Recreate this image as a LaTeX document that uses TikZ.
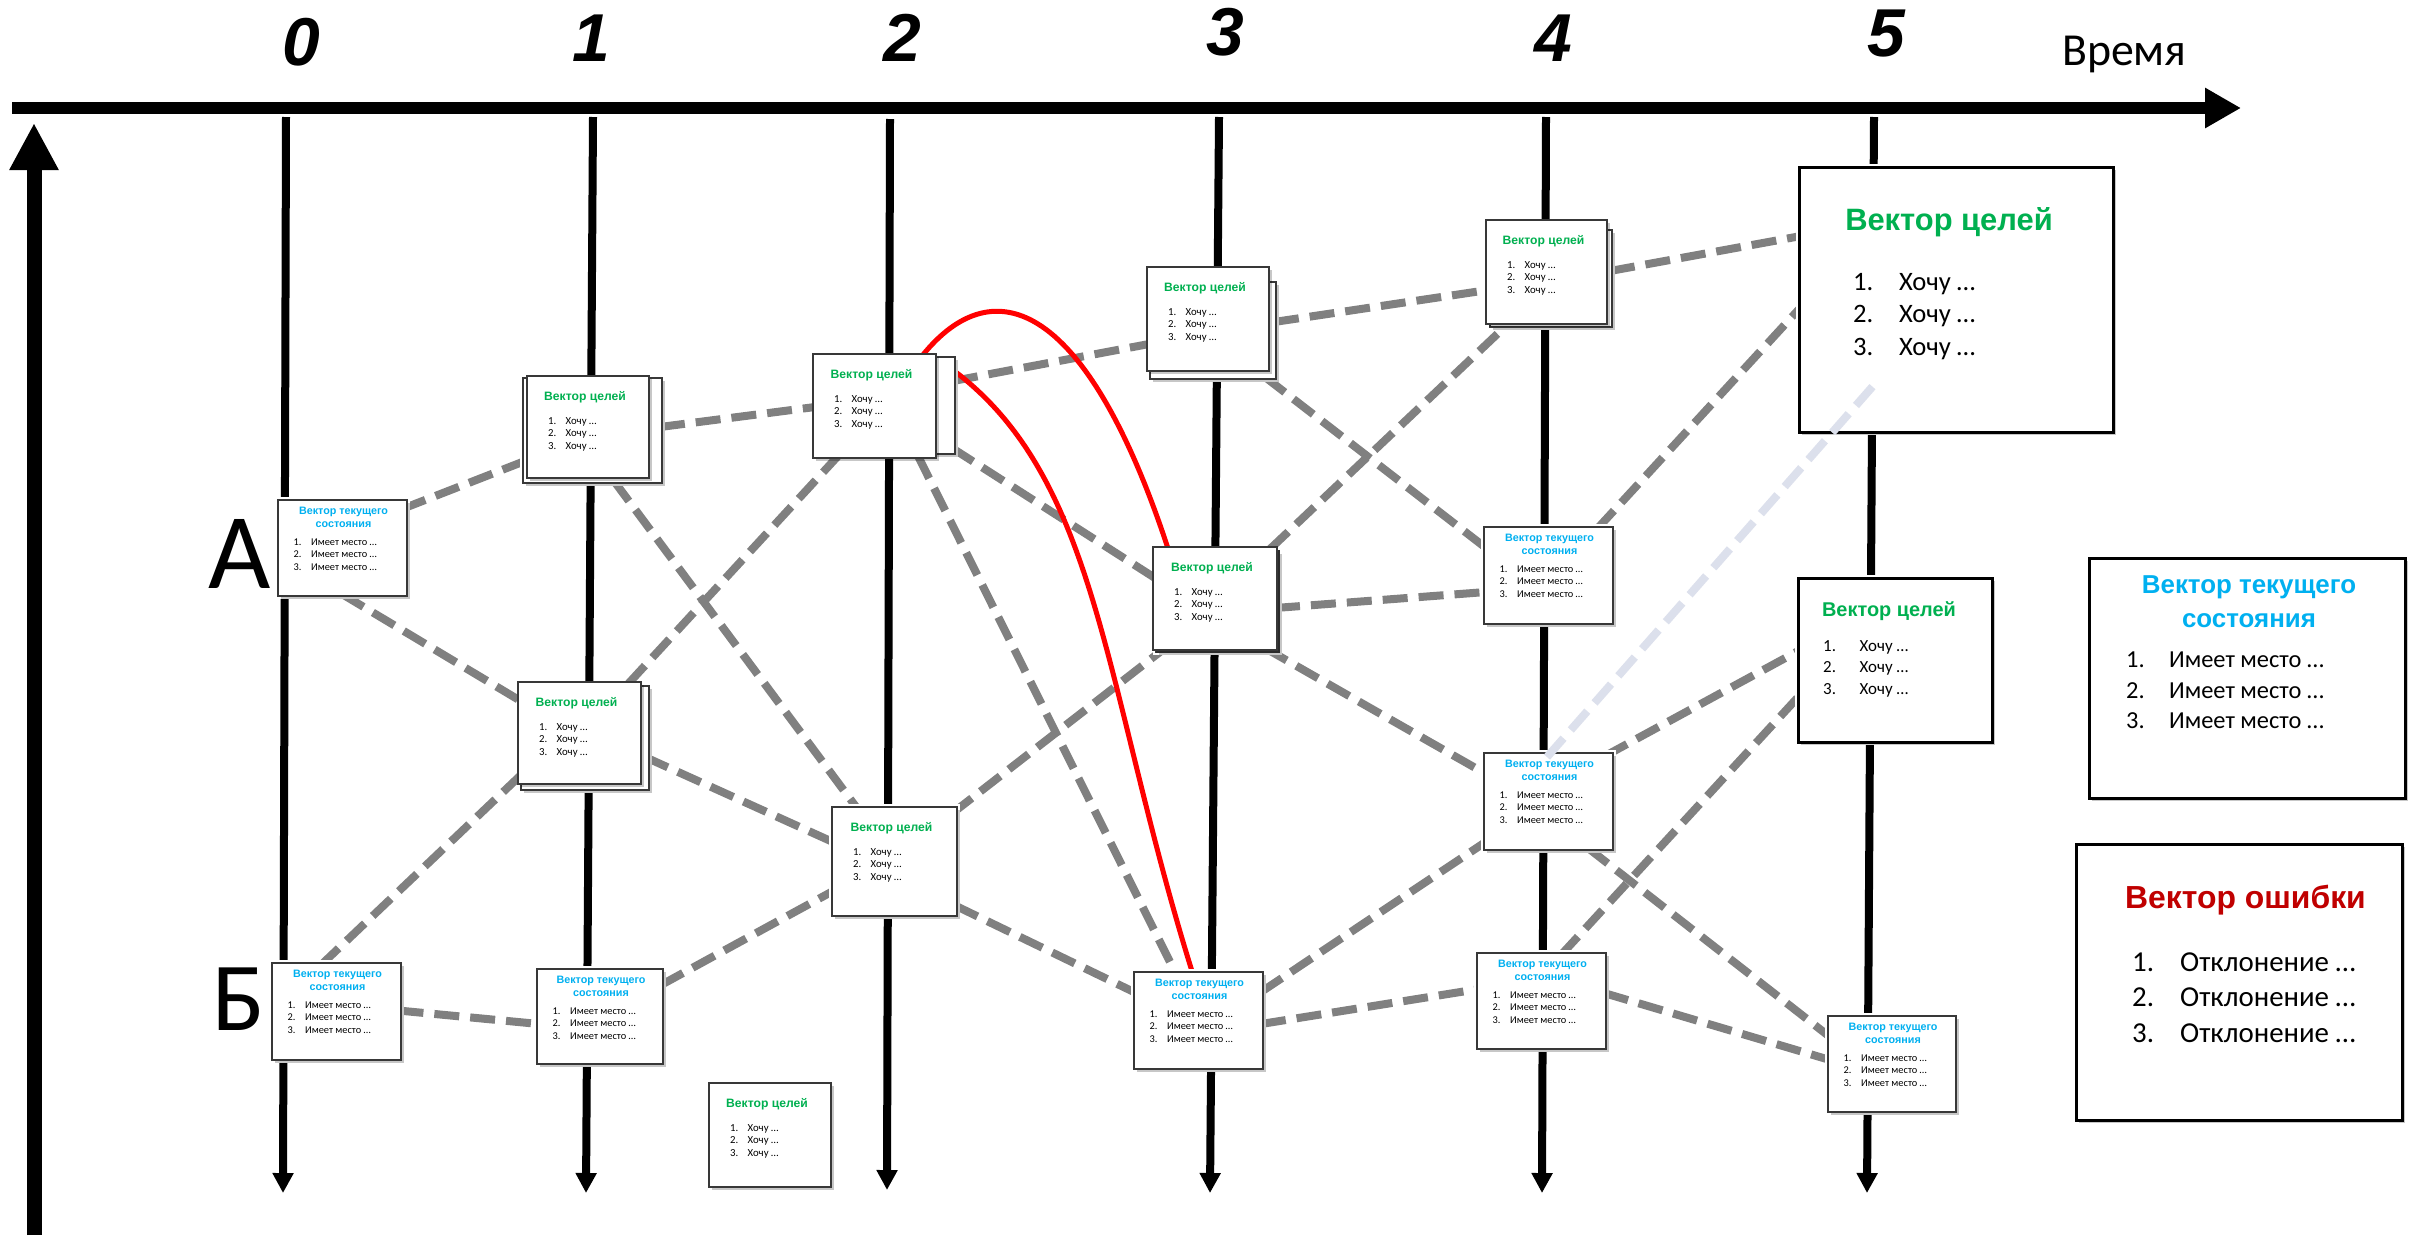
\documentclass[tikz,border=0pt]{standalone}
\usepackage{fontspec}
\setmainfont{Carlito}
\newfontfamily\tb{Liberation Sans}
\usetikzlibrary{arrows.meta,calc,shadows}
\pgfdeclarelayer{bg}
\pgfsetlayers{bg,main}
\definecolor{gr}{HTML}{00B050}
\definecolor{bl}{HTML}{00B0F0}
\definecolor{er}{HTML}{C00000}
\definecolor{dg}{HTML}{808080}
\definecolor{lv}{HTML}{DCE0EC}
\newcommand\mkbox[6]{%
 \node[#1, minimum width={(#5-#3)*1bp}, minimum height={(#6-#4)*1bp}] (#2) at ({(#3+#5)/2},{(#4+#6)/2}) {};}
\newcommand\goaltext[1]{%
 \node[anchor=base, text=gr, font=\tb\bfseries\fontsize{12.2}{14}\selectfont, inner sep=0] (#1-t) at ($(#1.north)+(-3,24.4)$) {Вектор целей};
 \node[anchor=base west, inner sep=0, font=\fontsize{10.8}{13}\selectfont] (#1-l) at ($(#1.north west)+(21,48)$) {\begin{tabular}[t]{@{}l@{\hspace{9.3bp}}l@{}}1.&Хочу …\\2.&Хочу …\\3.&Хочу …\end{tabular}};}
\newcommand\statetext[1]{%
 \node[anchor=base, text=bl, font=\tb\bfseries\fontsize{10.8}{13}\selectfont, inner sep=0] (#1-t) at ($(#1.north)+(1,14.9)$) {\begin{tabular}[t]{@{}c@{}}Вектор текущего\\состояния\end{tabular}};
 \node[anchor=base west, inner sep=0, font=\fontsize{10.4}{12.5}\selectfont] (#1-l) at ($(#1.north west)+(15.5,45.3)$) {\begin{tabular}[t]{@{}l@{\hspace{9.6bp}}l@{}}1.&Имеет место …\\2.&Имеет место …\\3.&Имеет место …\end{tabular}};}
\begin{document}
\begin{tikzpicture}[x=1bp,y=-1bp,
 ring/.style={preaction={draw=white,line width=6bp}},
 shd/.style={drop shadow={shadow xshift=2.5bp,shadow yshift=-2.5bp,fill=black,opacity=0.22}},
 bxf/.style={shd,draw=black!78,line width=1.8bp,fill=white,inner sep=0,outer sep=0},
 bx/.style={ring,bxf},
 bxl/.style={ring,shd,draw=black,line width=3bp,fill=white,inner sep=0,outer sep=0},
 tl/.style={line width=8bp,-{Triangle[length=20bp,width=20bp]}},
 dl/.style={draw=dg,line width=8bp,dash pattern=on 25bp off 11bp},
 rl/.style={draw=red,line width=5bp},
 num/.style={font=\tb\bfseries\itshape\fontsize{68}{70}\selectfont,inner sep=0}]
\begin{pgfonlayer}{bg}
\fill[white] (0,0) rectangle (2410,1235);
\end{pgfonlayer}
\useasboundingbox (0,0) rectangle (2410,1235);
% axes
\coordinate (ax0) at (12,108); \coordinate (ax1) at (2241,108);
\draw[line width=12bp,-{Triangle[length=36bp,width=38bp]}] (ax0) -- (ax1);
\coordinate (vy0) at (34,1235); \coordinate (vy1) at (34,123);
\draw[line width=15bp,-{Triangle[length=47bp,width=46bp]}] (vy0) -- (vy1);
% time labels
\node[num] (n0) at (301,42) {0};
\node[num] (n1) at (591,38) {1};
\node[num] (n2) at (902,38) {2};
\node[num] (n3) at (1225,32) {3};
\node[num] (n4) at (1553,38) {4};
\node[num] (n5) at (1886,34) {5};
\node[anchor=base west,inner sep=0,font=\fontsize{46}{52}\selectfont] (tm) at (2062,65) {Время};
\node[anchor=base,inner sep=0,font=\fontsize{108}{120}\selectfont] (lA) at (240,588) {А};
\node[anchor=base,inner sep=0,font=\fontsize{98}{110}\selectfont] (lB) at (239,1030) {Б};
% boxes
\mkbox{bx}{S0A}{278}{500}{407}{596}
\mkbox{bx}{S0B}{272}{963}{401}{1060}
\mkbox{bx}{G1ab}{523}{378}{662}{483}
\mkbox{bxf}{G1a}{527}{376}{649}{478}
\mkbox{bx}{G1bb}{521}{686}{649}{790}
\mkbox{bxf}{G1b}{518}{682}{641}{784}
\mkbox{bx}{S1}{537}{969}{663}{1064}
\mkbox{bx}{Gx}{709}{1083}{831}{1187}
\mkbox{bx}{G2ab}{815}{357}{955}{454}
\mkbox{bxf}{G2a}{813}{354}{936}{458}
\mkbox{bx}{G2b}{832}{807}{957}{916}
\mkbox{bx}{G3ab}{1150}{282}{1276}{379}
\mkbox{bxf}{G3a}{1147}{267}{1269}{371}
\mkbox{bx}{G3bb}{1156}{551}{1279}{652}
\mkbox{bxf}{G3b}{1153}{547}{1277}{650}
\mkbox{bx}{S3}{1134}{972}{1263}{1069}
\mkbox{bx}{G4ab}{1490}{230}{1612}{327}
\mkbox{bxf}{G4a}{1486}{220}{1607}{324}
\mkbox{bx}{S4a}{1484}{527}{1613}{624}
\mkbox{bx}{S4b}{1484}{753}{1613}{850}
\mkbox{bx}{S4c}{1477}{953}{1606}{1049}
\mkbox{bxl}{G5a}{1799}{167}{2113}{432}
\mkbox{bxl}{G5b}{1798}{578}{1992}{742}
\mkbox{bx}{S5}{1828}{1016}{1956}{1112}
\mkbox{bxl}{L1}{2089}{558}{2405}{798}
\mkbox{bxl}{L2}{2076}{844}{2402}{1120}
% box texts
\statetext{S0A}\statetext{S0B}\statetext{S1}\statetext{S3}
\statetext{S4a}\statetext{S4b}\statetext{S4c}\statetext{S5}
\goaltext{G1a}\goaltext{G1b}\goaltext{Gx}\goaltext{G2a}\goaltext{G2b}
\goaltext{G3a}\goaltext{G3b}\goaltext{G4a}
\node[anchor=base, text=gr, font=\tb\bfseries\fontsize{31}{36}\selectfont, inner sep=0] (G5a-t) at ($(G5a.north)+(-7,63.2)$) {Вектор целей};
\node[anchor=base west, inner sep=0, font=\fontsize{26.7}{32.5}\selectfont] (G5a-l) at ($(G5a.north west)+(54,123.5)$) {\begin{tabular}[t]{@{}l@{\hspace{25.7bp}}l@{}}1.&Хочу …\\2.&Хочу …\\3.&Хочу …\end{tabular}};
\node[anchor=base, text=gr, font=\tb\bfseries\fontsize{20}{24}\selectfont, inner sep=0] (G5b-t) at ($(G5b.north)+(-6,38.2)$) {Вектор целей};
\node[anchor=base west, inner sep=0, font=\fontsize{17}{21.5}\selectfont] (G5b-l) at ($(G5b.north west)+(25,73.4)$) {\begin{tabular}[t]{@{}l@{\hspace{23.6bp}}l@{}}1.&Хочу …\\2.&Хочу …\\3.&Хочу …\end{tabular}};
\node[anchor=base, text=bl, font=\tb\bfseries\fontsize{26}{34}\selectfont, inner sep=0] (L1-t) at ($(L1.north)+(2,35.4)$) {\begin{tabular}[t]{@{}c@{}}Вектор текущего\\состояния\end{tabular}};
\node[anchor=base west, inner sep=0, font=\fontsize{24.5}{30.5}\selectfont] (L1-l) at ($(L1.north west)+(37,109.8)$) {\begin{tabular}[t]{@{}l@{\hspace{24.4bp}}l@{}}1.&Имеет место …\\2.&Имеет место …\\3.&Имеет место …\end{tabular}};
\node[anchor=base, text=er, font=\tb\bfseries\fontsize{32}{38}\selectfont, inner sep=0] (L2-t) at ($(L2.north)+(6.5,64.5)$) {Вектор ошибки};
\node[anchor=base west, inner sep=0, font=\fontsize{29}{35.5}\selectfont] (L2-l) at ($(L2.north west)+(56,127.3)$) {\begin{tabular}[t]{@{}l@{\hspace{26bp}}l@{}}1.&Отклонение …\\2.&Отклонение …\\3.&Отклонение …\end{tabular}};
% light connector on top of boxes
\draw[draw=lv,line width=8bp,dash pattern=on 25bp off 11bp] ($(S4b)+(-1.5,-44.5)$) -- ($(G5a)+(-79,82)$);
% everything below the boxes
\begin{pgfonlayer}{bg}
\coordinate (c0a) at (286,117); \coordinate (c0b) at (283,1193);
\coordinate (c1a) at (593,117); \coordinate (c1b) at (586,1193);
\coordinate (c2a) at (890,119); \coordinate (c2b) at (887,1190);
\coordinate (c3a) at (1219,117); \coordinate (c3b) at (1210,1193);
\coordinate (c4a) at (1546,117); \coordinate (c4b) at (1542,1193);
\coordinate (c5a) at (1874,117); \coordinate (c5b) at (1867,1193);
\foreach \i in {0,...,5}{\draw[tl] (c\i a) -- (c\i b);}
\draw[dl] ($(S0A)+(59.5,-39)$) -- ($(G1a)+(-58,32)$);
\draw[dl] ($(S0A)+(-0.5,46)$) -- ($(G1b)+(-55.5,-30)$);
\draw[dl] ($(S0B)+(-16,-46)$) -- ($(G1b)+(-57.5,41)$);
\draw[dl] ($(S0B)+(62,-1)$) -- ($(S1)+(-61,7.5)$);
\draw[dl] ($(G1a)+(72,0)$) -- ($(G2a)+(-59.5,1)$);
\draw[dl] ($(G1a)+(26,54)$) -- ($(G2b)+(-36.5,-52)$);
\draw[dl] ($(G1b)+(48.5,-49)$) -- ($(G2a)+(-36.5,50)$);
\draw[dl] ($(G1b)+(65.5,24)$) -- ($(G2b)+(-60.5,-19)$);
\draw[dl] ($(S1)+(61,-31.5)$) -- ($(G2b)+(-60.5,29)$);
\draw[dl] ($(G2a)+(78.5,-25)$) -- ($(G3a)+(-59,25)$);
\draw[dl] ($(G2a)+(77.5,42)$) -- ($(G3b)+(-60,-20.5)$);
\draw[dl] ($(G2a)+(43.5,50)$) -- ($(S3)+(-22.5,-46.5)$);
\draw[dl] ($(G2b)+(57.5,-48)$) -- ($(G3b)+(-50,49.5)$);
\draw[dl] ($(G2b)+(60.5,44)$) -- ($(S3)+(-62.5,-27.5)$);
\draw[dl] ($(G3a)+(66,3)$) -- ($(G4a)+(-58.5,18)$);
\draw[dl] ($(G3a)+(57,58)$) -- ($(S4a)+(-62.5,-27.5)$);
\draw[dl] ($(G3b)+(55,-49.5)$) -- ($(G4a)+(-36.5,50)$);
\draw[dl] ($(G3b)+(60,9.5)$) -- ($(S4a)+(-62.5,16.5)$);
\draw[dl] ($(G3b)+(50,49.5)$) -- ($(S4b)+(-62.5,-27.5)$);
\draw[dl] ($(S3)+(62.5,-28.5)$) -- ($(S4b)+(-61.5,39.5)$);
\draw[dl] ($(S3)+(62.5,3.5)$) -- ($(S4c)+(-62.5,-12)$);
\draw[dl] ($(G4a)+(63.5,-1)$) -- ($(G5a)+(-155,-63.5)$);
\draw[dl] ($(S4a)+(48.5,-46.5)$) -- ($(G5a)+(-155,7.5)$);
\draw[dl] ($(S4b)+(56.5,-45.5)$) -- ($(G5b)+(-95,-10)$);
\draw[dl] ($(S4c)+(19.5,-46)$) -- ($(G5b)+(-95,35)$);
\draw[dl] ($(S4b)+(39.5,46.5)$) -- ($(S5)+(-62,-27)$);
\draw[dl] ($(S4c)+(62.5,-8)$) -- ($(S5)+(-62,-4)$);
\draw[rl] ($(G2a)+(47.5,-50)$) .. controls (995,265) and (1088,305) .. ($(G3b)+(-47,-50)$);
\draw[rl] ($(G2ab)+(68,-35.5)$) .. controls (1100,480) and (1103,687) .. ($(S3)+(-5.5,-46)$);
\end{pgfonlayer}
\end{tikzpicture}
\end{document}
